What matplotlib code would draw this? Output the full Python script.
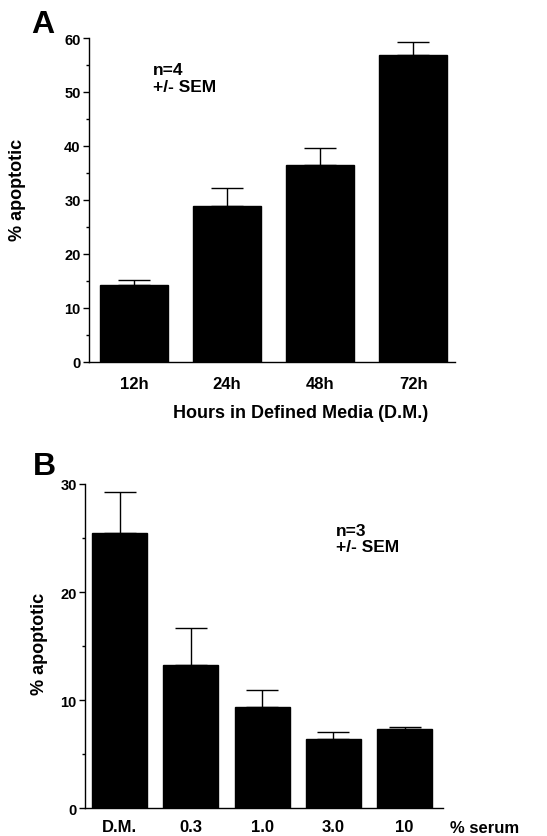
import matplotlib
matplotlib.use('Agg')

import matplotlib.pyplot as plt
from matplotlib.ticker import MultipleLocator

plt.rcParams['font.family'] = ['Liberation Sans', 'DejaVu Sans']
plt.rcParams['font.weight'] = 'bold'

# Панель A: время в среде
hours_labels = ['12h', '24h', '48h', '72h']
hours_values = [14.3, 28.9, 36.4, 56.9]
hours_sem = [0.8, 3.4, 3.2, 2.4]

# Панель B: % сыворотки
serum_labels = ['D.M.', '0.3', '1.0', '3.0', '10']
serum_values = [25.5, 13.3, 9.35, 6.45, 7.3]
serum_sem = [3.8, 3.4, 1.6, 0.65, 0.2]

W, H = 547, 837
fig = plt.figure(figsize=(W / 100, H / 100), dpi=100)
fig.patch.set_facecolor('white')


def style_axis(ax, ymax, major):
    ax.spines['top'].set_visible(False)
    ax.spines['right'].set_visible(False)
    ax.spines['left'].set_linewidth(1.0)
    ax.spines['bottom'].set_linewidth(1.0)
    ax.set_ylim(0, ymax)
    ax.yaxis.set_major_locator(MultipleLocator(major))
    ax.yaxis.set_minor_locator(MultipleLocator(major / 2))
    ax.tick_params(axis='y', which='major', length=4, width=1, labelsize=10.5, pad=2)
    ax.tick_params(axis='y', which='minor', length=2, width=1)
    ax.tick_params(axis='x', length=0, labelsize=12, pad=10)
    for lbl in ax.get_yticklabels() + ax.get_xticklabels():
        lbl.set_fontweight('bold')


# --- A ---
axA = fig.add_axes([89 / W, 1 - 363 / H, 366 / W, 324 / H])
xa = range(len(hours_labels))
axA.bar(xa, hours_values, width=0.73, color='black', edgecolor='black')
axA.errorbar(xa, hours_values, yerr=[[0] * len(hours_sem), hours_sem],
             fmt='none', ecolor='black', elinewidth=1, capsize=11.5, capthick=1)
axA.set_xlim(-0.484, 3.45)
axA.set_xticks(list(xa))
axA.set_xticklabels(hours_labels)
style_axis(axA, 60, 10)
axA.set_ylabel('% apoptotic', fontsize=13, fontweight='bold')
axA.yaxis.set_label_coords(-0.172, 0.534)
axA.set_xlabel('Hours in Defined Media (D.M.)', fontsize=13, fontweight='bold')
axA.xaxis.set_label_coords(0.577, -0.13)
axA.text(0.175, 0.925, 'n=4\n+/- SEM', transform=axA.transAxes, fontsize=12.5,
         fontweight='bold', va='top', ha='left', linespacing=1.1)
fig.text(31 / W, 1 - 33 / H, 'A', fontsize=23, fontweight='bold', ha='left', va='baseline')

# --- B ---
axB = fig.add_axes([85 / W, 1 - 809.3 / H, 358 / W, 324.3 / H])
xb = range(len(serum_labels))
axB.bar(xb, serum_values, width=0.77, color='black', edgecolor='black')
axB.errorbar(xb, serum_values, yerr=[[0] * len(serum_sem), serum_sem],
             fmt='none', ecolor='black', elinewidth=1, capsize=11.5, capthick=1)
axB.set_xlim(-0.486, 4.54)
axB.set_xticks(list(xb))
axB.set_xticklabels(serum_labels)
style_axis(axB, 30, 10)
axB.tick_params(axis='x', pad=8)
axB.set_ylabel('% apoptotic', fontsize=13, fontweight='bold')
axB.yaxis.set_label_coords(-0.103, 0.51)
axB.text(1.02, -0.058, '% serum', transform=axB.transAxes, fontsize=12,
         fontweight='bold', ha='left', va='center')
axB.text(0.70, 0.88, 'n=3\n+/- SEM', transform=axB.transAxes, fontsize=12.5,
         fontweight='bold', va='top', ha='left', linespacing=1.1)
fig.text(33 / W, 1 - 475 / H, 'B', fontsize=23, fontweight='bold', ha='left', va='baseline')

fig.savefig('out.png', dpi=100, facecolor='white')
plt.close(fig)
